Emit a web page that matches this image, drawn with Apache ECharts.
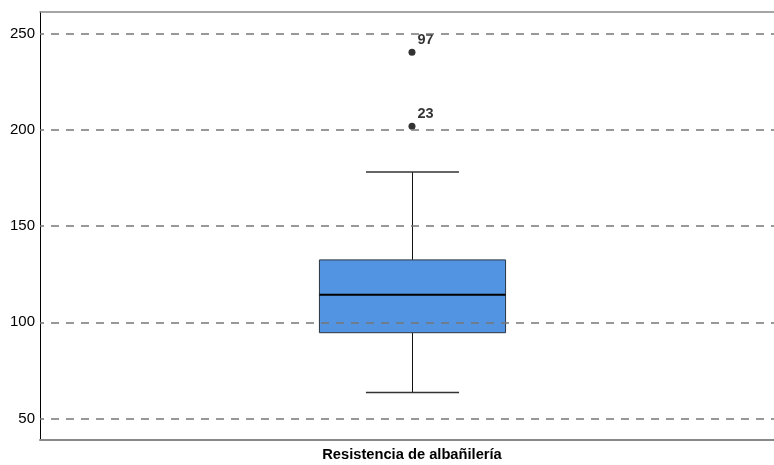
<!DOCTYPE html>
<html>
<head>
<meta charset="utf-8">
<script src="https://cdn.jsdelivr.net/npm/echarts@6/dist/echarts.min.js"></script>
<style>
  html, body { margin: 0; padding: 0; background: #fff; }
  #chart { width: 774px; height: 465px; }
</style>
</head>
<body>
<div id="chart"></div>
<script>
// Variable shown on the horizontal axis
const categories = ['Resistencia de albañilería'];
// Five-number summary: lower whisker, Q1, median, Q3, upper whisker
const boxStats = [63.5, 94.6, 114.3, 132.4, 178.0];
// Outlying cases: [value, case number]
const outlierValues = [240.2, 201.8];
const outlierCases = ['97', '23'];
// Value axis tick labels
const yTicks = [50, 100, 150, 200, 250];

const chart = echarts.init(document.getElementById('chart'));

const boxData = [[0].concat(boxStats)];
const outlierData = outlierValues.map((v, i) => ({ value: [0, v], name: outlierCases[i] }));

function renderBox(params, api) {
  const x = api.value(0);
  const low = api.coord([x, api.value(1)]);
  const q1 = api.coord([x, api.value(2)]);
  const med = api.coord([x, api.value(3)]);
  const q3 = api.coord([x, api.value(4)]);
  const high = api.coord([x, api.value(5)]);
  const band = api.size([1, 0])[0];
  const halfBox = band * 0.125;
  const halfCap = halfBox / 2;
  const cx = Math.round(low[0]) + 0.5;
  const stroke = { stroke: '#111', lineWidth: 1 };
  return {
    type: 'group',
    children: [
      { type: 'line', shape: { x1: cx, y1: high[1], x2: cx, y2: q3[1] }, style: stroke },
      { type: 'line', shape: { x1: cx, y1: q1[1], x2: cx, y2: low[1] }, style: stroke },
      { type: 'line', shape: { x1: cx - halfCap, y1: high[1], x2: cx + halfCap, y2: high[1] }, style: { stroke: '#333', lineWidth: 1.5 } },
      { type: 'line', shape: { x1: cx - halfCap, y1: low[1], x2: cx + halfCap, y2: low[1] }, style: { stroke: '#333', lineWidth: 1.5 } },
      { type: 'rect', shape: { x: cx - halfBox, y: q3[1], width: halfBox * 2, height: q1[1] - q3[1] },
        style: { fill: '#5294e2', stroke: '#2b3640', lineWidth: 1 } },
      { type: 'line', shape: { x1: cx - halfBox, y1: med[1], x2: cx + halfBox, y2: med[1] }, style: { stroke: '#000', lineWidth: 2 } }
    ]
  };
}

const fontFamily = 'Liberation Sans, Arial, sans-serif';

chart.setOption({
  animation: false,
  grid: { left: 40, right: 0, top: 12, bottom: 25 },
  xAxis: [
    {
      type: 'value',
      min: -0.4996,
      max: 0.4862,
      axisLine: { show: true, onZero: false, lineStyle: { color: '#888', width: 2 } },
      axisTick: { show: false },
      splitLine: { show: false },
      axisLabel: {
        customValues: [0],
        formatter: () => categories[0],
        color: '#000', fontSize: 14.7, fontWeight: 'bold',
        fontFamily: fontFamily, margin: 7
      }
    },
    {
      type: 'value',
      position: 'top',
      min: -0.4996,
      max: 0.4862,
      axisLine: { show: true, onZero: false, lineStyle: { color: '#888', width: 1.5 } },
      axisTick: { show: false },
      axisLabel: { show: false },
      splitLine: { show: false }
    }
  ],
  yAxis: {
    type: 'value',
    min: 38.9,
    max: 261.1,
    axisLine: { show: true, onZero: false, lineStyle: { color: '#000', width: 1 } },
    axisTick: { show: false },
    splitLine: { show: false },
    axisLabel: {
      customValues: yTicks,
      color: '#000', fontSize: 15,
      fontFamily: fontFamily, margin: 5
    }
  },
  series: [
    {
      type: 'custom',
      renderItem: renderBox,
      data: boxData,
      encode: { x: 0, y: [1, 2, 3, 4, 5] },
      silent: true,
      z: 3,
      markLine: {
        silent: true,
        symbol: 'none',
        label: { show: false },
        lineStyle: { color: '#777', type: [8, 7], dashOffset: 4, width: 1.5 },
        data: yTicks.map(v => ({ yAxis: v }))
      }
    },
    {
      type: 'scatter',
      data: outlierData,
      symbol: 'circle',
      symbolSize: 7,
      itemStyle: { color: '#000' },
      z: 4,
      label: {
        show: true,
        formatter: p => p.name,
        position: 'right',
        offset: [-3, -12],
        color: '#000', fontSize: 14.5, fontWeight: 'bold',
        fontFamily: fontFamily
      }
    }
  ]
});
</script>
</body>
</html>
